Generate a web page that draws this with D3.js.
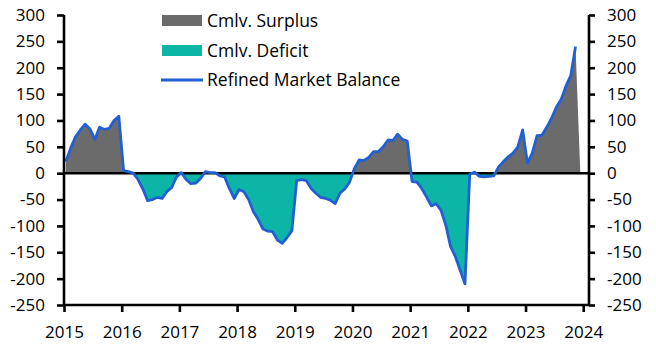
<!DOCTYPE html>
<html>
<head>
<meta charset="utf-8">
<script src="https://cdn.jsdelivr.net/npm/d3@7/dist/d3.min.js"></script>
<style>
  html, body { margin: 0; padding: 0; background: #fff; }
  svg { display: block; }
  text { font-family: "Open Sans", "Lato", sans-serif; fill: #000; }
</style>
</head>
<body>
<svg id="chart" width="656" height="355"></svg>
<script>
// Monthly refined market balance, Jan 2015 .. Nov 2023
const startYear = 2015;
const balance = [
  22, 48, 69, 82, 93, 84, 64, 87, 83, 85, 100, 108,          // 2015
  5, 3, 0, -12, -30, -52, -50, -46, -48, -35, -27, -7,       // 2016
  1, -12, -20, -19, -10, 3, 1, 1, -5, -7, -29, -48,          // 2017
  -31, -35, -50, -73, -88, -106, -110, -111, -127, -133, -122, -109, // 2018
  -14, -12, -14, -29, -38, -46, -48, -51, -58, -38, -30, -17, // 2019
  9, 25, 24, 30, 41, 41, 50, 63, 62, 74, 64, 61,             // 2020
  -16, -17, -29, -45, -62, -58, -70, -98, -139, -158, -184, -210, // 2021
  -2, 2, -6, -7, -6, -5, 12, 22, 31, 38, 50, 82,             // 2022
  19, 38, 71, 72, 87, 104, 125, 140, 165, 185, 240           // 2023
];
const yTicks = [-250, -200, -150, -100, -50, 0, 50, 100, 150, 200, 250, 300];
const xTicks = [2015, 2016, 2017, 2018, 2019, 2020, 2021, 2022, 2023, 2024];
const legendLabels = ["Cmlv. Surplus", "Cmlv. Deficit", "Refined Market Balance"];

const colors = { surplus: "#6b6b6b", deficit: "#0db5a6", line: "#2260d2" };

const svg = d3.select("#chart");
const pL = 64, pR = 589, pT = 15, pB = 305;

const x = d3.scaleLinear().domain([2015, 2024.1]).range([pL, pR]);
const y = d3.scaleLinear().domain([-250, 300]).range([pB, pT]);

const pts = balance.map((v, i) => ({ t: startYear + (i + 0.4) / 12, v }));
const areaPts = pts.concat([{ t: startYear + (balance.length + 0.4) / 12, v: 0 }]);

const defs = svg.append("defs");
defs.append("clipPath").attr("id", "clipPos").append("rect")
  .attr("x", pL).attr("y", pT - 5).attr("width", pR - pL).attr("height", y(0) - pT + 5);
defs.append("clipPath").attr("id", "clipNeg").append("rect")
  .attr("x", pL).attr("y", y(0)).attr("width", pR - pL).attr("height", pB - y(0));

const area = d3.area().x(d => x(d.t)).y0(y(0)).y1(d => y(d.v));
svg.append("path").datum(areaPts).attr("d", area)
  .attr("fill", colors.surplus).attr("clip-path", "url(#clipPos)");
svg.append("path").datum(areaPts).attr("d", area)
  .attr("fill", colors.deficit).attr("clip-path", "url(#clipNeg)");

// zero line
svg.append("line").attr("x1", pL).attr("x2", pR).attr("y1", y(0)).attr("y2", y(0))
  .attr("stroke", "#000").attr("stroke-width", 2.6);

// line
const line = d3.line().x(d => x(d.t)).y(d => y(d.v));
svg.append("path").datum(pts).attr("d", line)
  .attr("fill", "none").attr("stroke", colors.line).attr("stroke-width", 2.8)
  .attr("stroke-linejoin", "round");

// axes
const fmt = d => String(d);
const axL = d3.axisLeft(y).tickValues(yTicks).tickSize(7).tickPadding(12).tickFormat(fmt);
const axR = d3.axisRight(y).tickValues(yTicks).tickSize(6).tickPadding(12).tickFormat(fmt);
const axB = d3.axisBottom(x).tickValues(xTicks).tickSize(7).tickPadding(14).tickFormat(d3.format("d"));

function style(g) {
  g.select(".domain").attr("stroke", "#000").attr("stroke-width", 2.6);
  g.selectAll(".tick line").attr("stroke", "#000").attr("stroke-width", 2.6);
  g.selectAll(".tick text").attr("font-size", 17).attr("font-family", "'Open Sans', Lato, sans-serif").attr("fill", "#000");
}
const gL = svg.append("g").attr("transform", `translate(${pL},0)`).call(axL).call(style);
const gR = svg.append("g").attr("transform", `translate(${pR},0)`).call(axR).call(style);
const gB = svg.append("g").attr("transform", `translate(0,${pB})`).call(axB).call(style);
gL.select(".domain").attr("d", `M0,${pT}V${pB}`);
gR.select(".domain").attr("d", `M0,${pT}V${pB}`);
gB.select(".domain").attr("d", `M${pL},0H${pR}`);

// legend
const leg = svg.append("g");
const ly = [20.5, 50.5, 80];
leg.append("rect").attr("x", 162).attr("y", ly[0] - 5.5).attr("width", 40).attr("height", 11).attr("fill", colors.surplus);
leg.append("rect").attr("x", 162).attr("y", ly[1] - 5.5).attr("width", 40).attr("height", 11).attr("fill", colors.deficit);
leg.append("line").attr("x1", 161).attr("x2", 203).attr("y1", ly[2]).attr("y2", ly[2])
  .attr("stroke", colors.line).attr("stroke-width", 3);
legendLabels.forEach((t, i) => {
  leg.append("text").attr("x", 207).attr("y", ly[i]).attr("dy", "0.36em")
    .attr("font-size", 17.5).text(t);
});
</script>
</body>
</html>
